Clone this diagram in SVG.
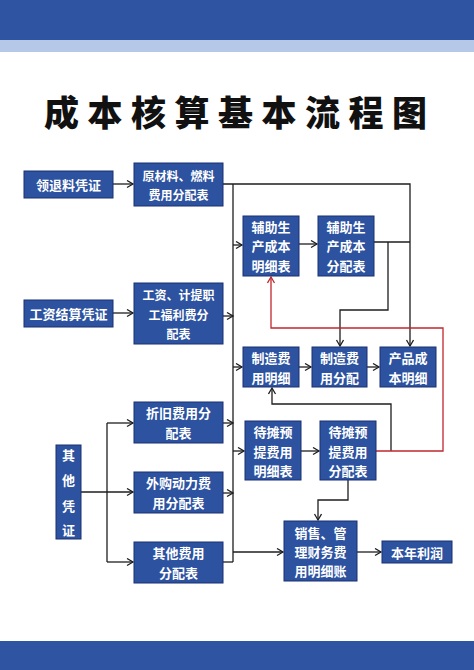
<svg xmlns="http://www.w3.org/2000/svg" width="474" height="670" viewBox="0 0 474 670">
<style>
.box{fill:#2c52a0;stroke:#1b3171;stroke-width:1}
.t{font-family:"Noto Sans CJK SC","Noto Sans",sans-serif;font-weight:700;fill:#fff;font-size:13px;text-anchor:middle;dominant-baseline:central}
.s{font-size:12px}
.ln{fill:none;stroke:#1e1e1e;stroke-width:1.3}
.red{fill:none;stroke:#c0272d;stroke-width:1.3}
</style>
<defs>
<marker id="a" markerUnits="userSpaceOnUse" markerWidth="10" markerHeight="10" refX="7" refY="4" orient="auto"><path d="M1,0.5 L7,4 L1,7.5" fill="none" stroke="#1e1e1e" stroke-width="1.3"/></marker>
<marker id="ar" markerUnits="userSpaceOnUse" markerWidth="10" markerHeight="10" refX="7" refY="4" orient="auto"><path d="M1,0.5 L7,4 L1,7.5" fill="none" stroke="#c0272d" stroke-width="1.3"/></marker>
</defs>
<rect x="0" y="0" width="474" height="40" fill="#2f54a2"/>
<rect x="0" y="40" width="474" height="12" fill="#b6c8e8"/>
<rect x="0" y="641" width="474" height="29" fill="#2f54a2"/>
<text x="44" y="110" font-family="'Noto Sans CJK SC',sans-serif" font-weight="900" font-size="35" letter-spacing="8.5" dominant-baseline="central" fill="#111">成本核算基本流程图</text>

<g id="connectors">
<path class="ln" d="M113,184 H133" marker-end="url(#a)"/>
<path class="ln" d="M113,313 H133" marker-end="url(#a)"/>
<path class="ln" d="M223,184 H410 V346" marker-end="url(#a)"/>
<path class="ln" d="M233,184 V562"/>
<path class="ln" d="M223,316 H233" marker-end="url(#a)"/>
<path class="ln" d="M233,245 H242" marker-end="url(#a)"/>
<path class="ln" d="M233,367 H242" marker-end="url(#a)"/>
<path class="ln" d="M223,423 H233" marker-end="url(#a)"/>
<path class="ln" d="M233,451 H244" marker-end="url(#a)"/>
<path class="ln" d="M223,493 H233" marker-end="url(#a)"/>
<path class="ln" d="M223,562 H233"/>
<path class="ln" d="M233,552 H283" marker-end="url(#a)"/>
<path class="ln" d="M81,492 H133" marker-end="url(#a)"/>
<path class="ln" d="M107,423 V562"/>
<path class="ln" d="M107,423 H133" marker-end="url(#a)"/>
<path class="ln" d="M107,562 H133" marker-end="url(#a)"/>
<path class="ln" d="M299,244 H317" marker-end="url(#a)"/>
<path class="ln" d="M374,242 H410"/>
<path class="ln" d="M388,242 V310 H340 V346" marker-end="url(#a)"/>
<path class="ln" d="M299,367 H311" marker-end="url(#a)"/>
<path class="ln" d="M367,367 H379" marker-end="url(#a)"/>
<path class="ln" d="M301,451 H319" marker-end="url(#a)"/>
<path class="ln" d="M391,451 V404 H272 V388" marker-end="url(#a)"/>
<path class="ln" d="M348,480 V500 H318 V520" marker-end="url(#a)"/>
<path class="ln" d="M357,552 H381" marker-end="url(#a)"/>
<path class="red" d="M376,451 H443 V328 H271 V277" marker-end="url(#ar)"/>
</g>

<g id="n1"><rect class="box" x="24" y="171" width="89" height="27"/><text class="t" x="68.5" y="184.5">领退料凭证</text></g>
<g id="n2"><rect class="box" x="134" y="163" width="89" height="43"/><text class="t s" x="178.5" y="175">原材料、燃料</text><text class="t s" x="178.5" y="194">费用分配表</text></g>
<g id="n3"><rect class="box" x="24" y="300" width="89" height="27"/><text class="t" x="68.5" y="313.5">工资结算凭证</text></g>
<g id="n4"><rect class="box" x="134" y="283" width="89" height="61"/><text class="t s" x="178.5" y="294">工资、计提职</text><text class="t s" x="178.5" y="314">工福利费分</text><text class="t s" x="178.5" y="333">配表</text></g>
<g id="n5"><rect class="box" x="56" y="445" width="25" height="94"/><text class="t" x="68.5" y="454">其</text><text class="t" x="68.5" y="479">他</text><text class="t" x="68.5" y="505">凭</text><text class="t" x="68.5" y="529">证</text></g>
<g id="n6"><rect class="box" x="134" y="402" width="89" height="41"/><text class="t" x="178.5" y="412">折旧费用分</text><text class="t" x="178.5" y="432">配表</text></g>
<g id="n7"><rect class="box" x="134" y="472" width="89" height="41"/><text class="t" x="178.5" y="482">外购动力费</text><text class="t" x="178.5" y="502">用分配表</text></g>
<g id="n8"><rect class="box" x="134" y="542" width="89" height="41"/><text class="t" x="178.5" y="552">其他费用</text><text class="t" x="178.5" y="572">分配表</text></g>
<g id="n9"><rect class="box" x="243" y="216" width="56" height="60"/><text class="t" x="271" y="226">辅助生</text><text class="t" x="271" y="245.5">产成本</text><text class="t" x="271" y="265">明细表</text></g>
<g id="n10"><rect class="box" x="318" y="216" width="56" height="60"/><text class="t" x="346" y="226">辅助生</text><text class="t" x="346" y="245.5">产成本</text><text class="t" x="346" y="265">分配表</text></g>
<g id="n11"><rect class="box" x="243" y="347" width="56" height="40"/><text class="t" x="271" y="357">制造费</text><text class="t" x="271" y="377">用明细</text></g>
<g id="n12"><rect class="box" x="312" y="347" width="55" height="40"/><text class="t" x="339.5" y="357">制造费</text><text class="t" x="339.5" y="377">用分配</text></g>
<g id="n13"><rect class="box" x="380" y="347" width="56" height="40"/><text class="t" x="408" y="357">产品成</text><text class="t" x="408" y="377">本明细</text></g>
<g id="n14"><rect class="box" x="245" y="421" width="56" height="59"/><text class="t" x="273" y="431">待摊预</text><text class="t" x="273" y="451">提费用</text><text class="t" x="273" y="470">明细表</text></g>
<g id="n15"><rect class="box" x="320" y="421" width="56" height="59"/><text class="t" x="348" y="431">待摊预</text><text class="t" x="348" y="451">提费用</text><text class="t" x="348" y="470">分配表</text></g>
<g id="n16"><rect class="box" x="284" y="521" width="73" height="60"/><text class="t" x="320.5" y="532">销售、管</text><text class="t" x="320.5" y="551">理财务费</text><text class="t" x="320.5" y="570">用明细账</text></g>
<g id="n17"><rect class="box" x="382" y="541" width="70" height="22"/><text class="t" x="417" y="552">本年利润</text></g>
</svg>
